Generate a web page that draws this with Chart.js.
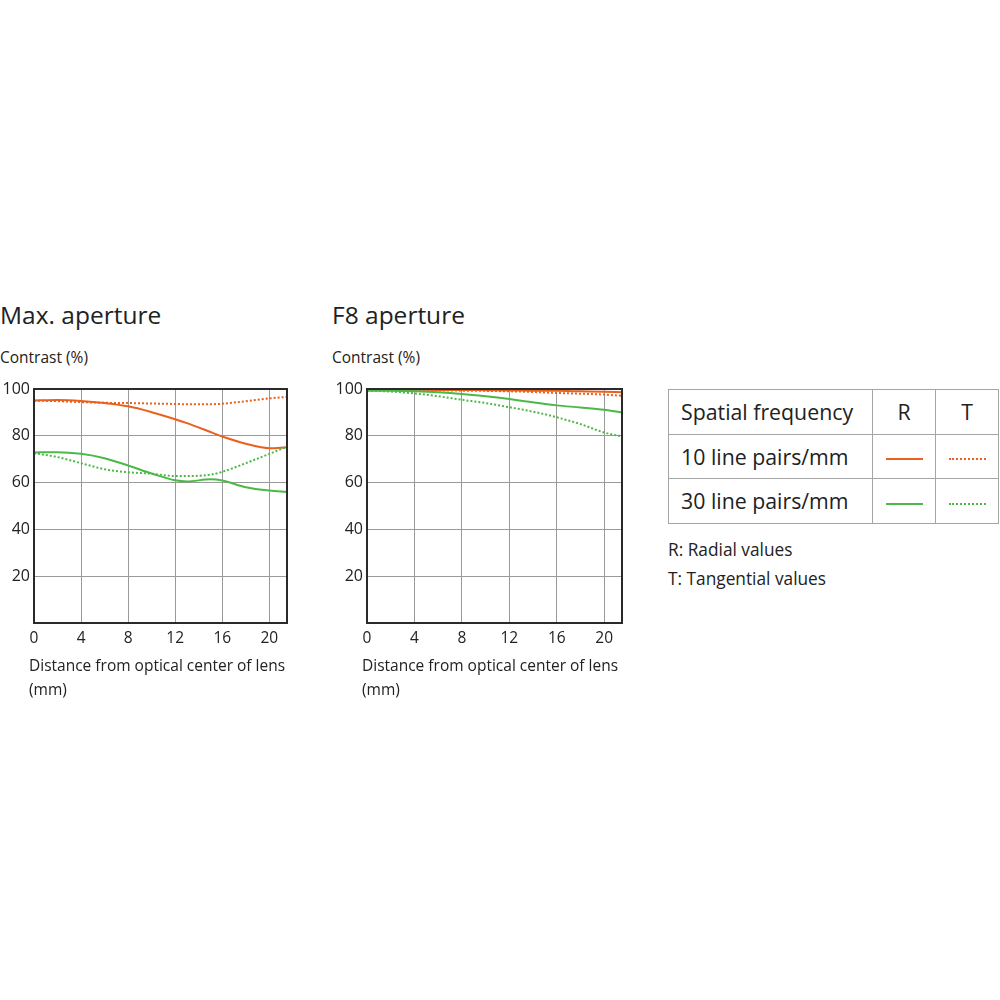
<!DOCTYPE html>
<html>
<head>
<meta charset="utf-8">
<script src="https://cdn.jsdelivr.net/npm/chart.js@4"></script>
<style>
  body { margin: 0; width: 1000px; height: 1000px; background: #fff; position: relative;
         font-family: "Open Sans", "Noto Sans", sans-serif; color: #222; overflow: hidden; }
  .title { position: absolute; font-size: 24.5px; top: 298px; }
  .ylab { position: absolute; font-size: 15.5px; top: 346px; }
  .xlab { position: absolute; font-size: 15.5px; line-height: 24px; top: 653px; }
  .box { position: absolute; top: 375px; width: 300px; height: 280px; }
  table { position: absolute; left: 668px; top: 389px; border-collapse: collapse; font-size: 21.3px; }
  td { border: 1.5px solid #a5a5a5; padding: 0; height: 43.5px; }
  td.lab { width: 191px; padding-left: 12px; }
  td.c { width: 62px; text-align: center; }
  .smp { display: inline-block; width: 37px; height: 0; vertical-align: middle; }
  .note { position: absolute; left: 668px; font-size: 17.3px; }
</style>
</head>
<body>
<div class="title" style="left:0">Max. aperture</div>
<div class="title" style="left:332px">F8 aperture</div>
<div class="ylab" style="left:0">Contrast (%)</div>
<div class="ylab" style="left:332px">Contrast (%)</div>
<div class="box" style="left:0"><canvas id="maxChart" width="300" height="280"></canvas></div>
<div class="box" style="left:333px"><canvas id="f8Chart" width="300" height="280"></canvas></div>
<div class="xlab" style="left:29px">Distance from optical center of lens<br>(mm)</div>
<div class="xlab" style="left:362px">Distance from optical center of lens<br>(mm)</div>

<table>
  <tr><td class="lab">Spatial frequency</td><td class="c">R</td><td class="c">T</td></tr>
  <tr><td class="lab">10 line pairs/mm</td>
      <td class="c"><span class="smp" style="border-top:2px solid #e8611f"></span></td>
      <td class="c"><span class="smp" style="border-top:2px dotted #e8611f"></span></td></tr>
  <tr><td class="lab">30 line pairs/mm</td>
      <td class="c"><span class="smp" style="border-top:2px solid #4cb848"></span></td>
      <td class="c"><span class="smp" style="border-top:2px dotted #4cb848"></span></td></tr>
</table>
<div class="note" style="top:538px">R: Radial values</div>
<div class="note" style="top:567px">T: Tangential values</div>

<script>
// distance from optical center (mm)
const distance = [0, 2, 4, 6, 8, 10, 12, 13, 15, 16, 18, 20, 21.5]
const xTicks = [0, 4, 8, 12, 16, 20]
const yTicks = [20, 40, 60, 80, 100]

// Max. aperture
const maxR10 = [95.1, 95.3, 94.9, 94.0, 92.6, 90.1, 87.1, 85.4, 81.6, 79.7, 76.6, 74.7, 75.1]
const maxT10 = [95.0, 94.8, 94.4, 94.1, 94.0, 93.8, 93.6, 93.5, 93.5, 93.7, 94.8, 96.0, 96.6]
const maxR30 = [72.9, 73.0, 72.3, 70.4, 67.3, 63.9, 61.0, 60.5, 61.4, 60.9, 58.0, 56.6, 56.1]
const maxT30 = [72.6, 70.9, 68.3, 65.7, 64.4, 63.8, 62.8, 62.8, 63.4, 64.6, 68.3, 72.3, 75.4]

// F8 aperture
const f8R10 = [99.7, 99.7, 99.7, 99.6, 99.6, 99.5, 99.4, 99.4, 99.2, 99.2, 99.0, 98.8, 98.6]
const f8T10 = [99.6, 99.6, 99.5, 99.4, 99.3, 99.2, 99.0, 98.9, 98.5, 98.3, 98.0, 97.6, 97.1]
const f8R30 = [99.3, 99.2, 99.0, 98.6, 97.9, 96.9, 95.7, 95.0, 93.6, 93.0, 92.1, 91.1, 90.0]
const f8T30 = [99.3, 98.9, 98.1, 96.9, 95.4, 94.0, 92.2, 91.3, 89.2, 87.9, 85.0, 81.4, 79.7]

const orange = '#e8611f'
const green = '#4cb848'

Chart.defaults.font.family = '"Open Sans", "Noto Sans", sans-serif'
Chart.defaults.color = '#222'

// dark frame round the plot area
const framePlugin = {
  id: 'frame',
  afterDraw(chart) {
    const a = chart.chartArea
    const ctx = chart.ctx
    ctx.save()
    ctx.strokeStyle = '#2a2a2a'
    ctx.lineWidth = 2
    ctx.strokeRect(a.left, a.top, a.right - a.left, a.bottom - a.top)
    ctx.restore()
  }
}

function series(values, color, dotted) {
  return {
    data: distance.map(function (d, i) { return { x: d, y: values[i] } }),
    borderColor: color,
    borderWidth: 2,
    borderDash: dotted ? [2, 2] : [],
    pointRadius: 0,
    cubicInterpolationMode: 'monotone',
    fill: false
  }
}

function drawChart(elementId, r10, t10, r30, t30, padRight) {
  const ctx = document.getElementById(elementId).getContext('2d')
  return new Chart(ctx, {
    type: 'line',
    data: {
      datasets: [
        series(t30, green, true),
        series(r30, green, false),
        series(t10, orange, true),
        series(r10, orange, false)
      ]
    },
    options: {
      responsive: false,
      animation: false,
      layout: { padding: { top: 14, right: padRight, left: 0, bottom: 0 } },
      plugins: { legend: { display: false }, tooltip: { enabled: false } },
      scales: {
        x: {
          type: 'linear', min: 0, max: 21.5,
          afterFit: function (s) { s.height = 32 },
          afterBuildTicks: function (s) { s.ticks = xTicks.map(function (v) { return { value: v } }) },
          border: { display: false },
          grid: { color: '#9a9a9a', lineWidth: 1, drawTicks: false },
          ticks: { padding: 6, font: { size: 15.5 }, maxRotation: 0 }
        },
        y: {
          min: 0, max: 100,
          afterFit: function (s) { s.width = 34 },
          afterBuildTicks: function (s) { s.ticks = yTicks.map(function (v) { return { value: v } }) },
          border: { display: false },
          grid: { color: '#9a9a9a', lineWidth: 1, drawTicks: false },
          ticks: { padding: 4, font: { size: 16 } }
        }
      }
    },
    plugins: [framePlugin]
  })
}

drawChart('maxChart', maxR10, maxT10, maxR30, maxT30, 13)
drawChart('f8Chart', f8R10, f8T10, f8R30, f8T30, 11)
</script>
</body>
</html>
